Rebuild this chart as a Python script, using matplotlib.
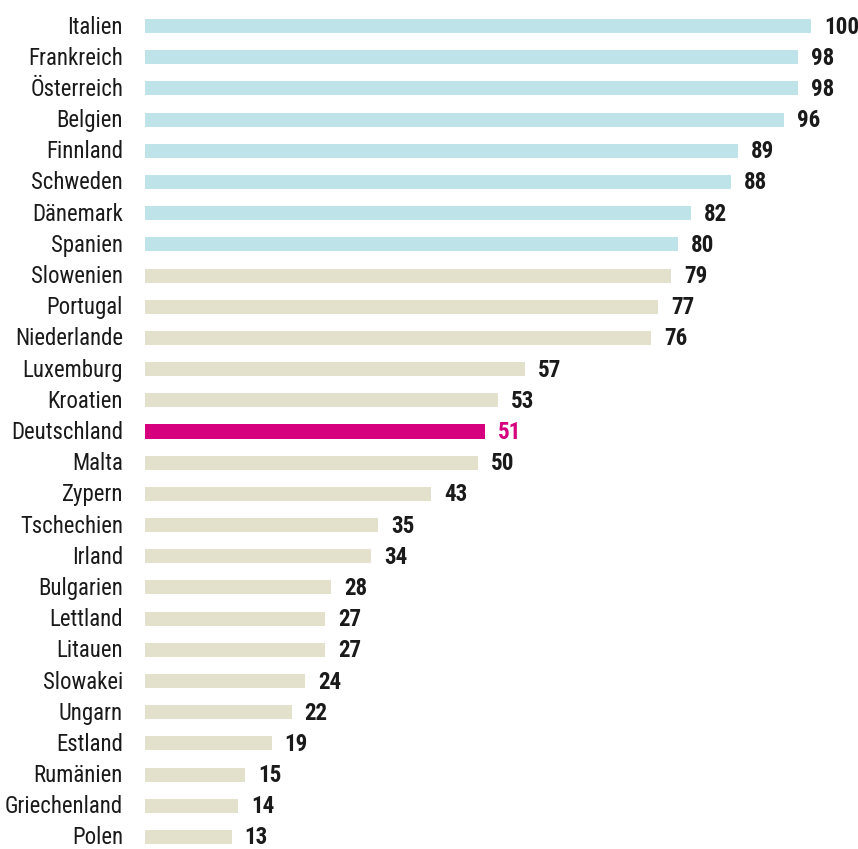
import matplotlib
matplotlib.use("Agg")
import matplotlib.pyplot as plt
from matplotlib import font_manager as fm
from matplotlib.textpath import TextPath
from matplotlib.transforms import offset_copy, blended_transform_factory

countries = ["Italien", "Frankreich", "Österreich", "Belgien", "Finnland", "Schweden",
             "Dänemark", "Spanien", "Slowenien", "Portugal", "Niederlande", "Luxemburg",
             "Kroatien", "Deutschland", "Malta", "Zypern", "Tschechien", "Irland",
             "Bulgarien", "Lettland", "Litauen", "Slowakei", "Ungarn", "Estland",
             "Rumänien", "Griechenland", "Polen"]
values = [100, 98, 98, 96, 89, 88, 82, 80, 79, 77, 76, 57, 53, 51, 50, 43, 35, 34,
          28, 27, 27, 24, 22, 19, 15, 14, 13]
groups = ["blue"] * 8 + ["beige"] * 5 + ["pink"] + ["beige"] * 13

palette = {"blue": "#BEE3E8", "beige": "#E3E0CC", "pink": "#D6007E"}
text_colors = {"blue": "#1a1a1a", "beige": "#1a1a1a", "pink": "#D6007E"}

# choose a narrow font if available
entries = fm.fontManager.ttflist
names = {f.name for f in entries}
stretch = "normal"
family = None
for n in ["Liberation Sans Narrow", "Arial Narrow", "Roboto Condensed", "Open Sans Condensed"]:
    if n in names:
        family = n
        break
if family is None:
    cond = [f for f in entries if f.name == "DejaVu Sans" and str(f.stretch) in ("condensed", "semi-condensed")]
    if cond:
        family = "DejaVu Sans"
        stretch = "condensed"
if family is None:
    family = "Liberation Sans" if "Liberation Sans" in names else "DejaVu Sans"

plt.rcParams["font.family"] = [family, "DejaVu Sans"]


def fit_size(text, target_px, weight="normal"):
    fp = fm.FontProperties(family=family, weight=weight, stretch=stretch)
    w = TextPath((0, 0), text, size=1, prop=fp).get_extents().width
    return target_px / w * 72 / 100


lab_size = fit_size("Frankreich", 91)
val_size = fit_size("100", 32, weight="bold")

W, H = 858, 849
fig = plt.figure(figsize=(W / 100, H / 100), dpi=100)
ax = fig.add_axes([145 / W, 1 - 837 / H, 666 / W, (837 - 26) / H])
ax.set_xlim(0, 100)
ax.set_ylim(len(countries) - 1, 0)

ypos = list(range(len(countries)))
ax.barh(ypos, values, height=0.45, color=[palette[g] for g in groups], clip_on=False)

val_tr = offset_copy(ax.transData, fig=fig, x=13, y=-7.5, units="dots")
for y, v, g in zip(ypos, values, groups):
    ax.text(v, y, f"{v}", transform=val_tr, ha="left", va="baseline", fontsize=val_size,
            fontweight="bold", fontstretch=stretch, color=text_colors[g], clip_on=False)

lab_base = blended_transform_factory(ax.transAxes, ax.transData)
lab_tr = offset_copy(lab_base, fig=fig, x=-22, y=-7.5, units="dots")
for y, c in zip(ypos, countries):
    ax.text(0, y, c, transform=lab_tr, ha="right", va="baseline", fontsize=lab_size,
            fontstretch=stretch, color="#1a1a1a", clip_on=False)

ax.set_yticks([])
ax.set_xticks([])
for s in ax.spines.values():
    s.set_visible(False)

fig.savefig("out.png", dpi=100)
